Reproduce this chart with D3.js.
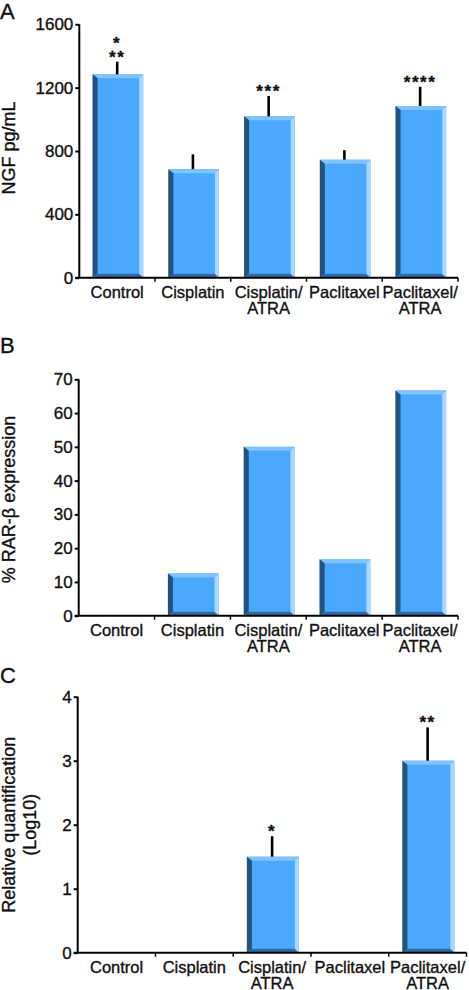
<!DOCTYPE html>
<html><head><meta charset="utf-8">
<script src="https://cdn.jsdelivr.net/npm/d3@7"></script>
<style>
html,body{margin:0;padding:0;background:#fff;}
svg{display:block;font-family:"Liberation Sans",Arial,Helvetica,sans-serif;}
svg text{stroke:#111;stroke-width:0.35px;fill:#111;}
</style></head>
<body>
<svg id="chart" width="469" height="990"></svg>
<script>
// ---------- data ----------
const categories = ["Control", "Cisplatin", "Cisplatin/ATRA", "Paclitaxel", "Paclitaxel/ATRA"];

// Panel A: NGF pg/mL
const ngfMean  = [1284, 685, 1019, 745, 1084];
const ngfUpper = [1364, 779, 1147, 805, 1206];
const ngfStars = [["*", "**"], [], ["***"], [], ["****"]];
const ngfTicks = [0, 400, 800, 1200, 1600];

// Panel B: % RAR-beta expression
const rarPct   = [0, 12.5, 50, 16.7, 66.7];
const rarTicks = [0, 10, 20, 30, 40, 50, 60, 70];

// Panel C: relative quantification (log10)
const rqMean   = [0, 0, 1.5, 0, 3.0];
const rqUpper  = [0, 0, 1.82, 0, 3.52];
const rqStars  = [[], [], ["*"], [], ["**"]];
const rqTicks  = [0, 1, 2, 3, 4];

// ---------- drawing ----------
const svg = d3.select("#chart");

const panels = [
  {letter: "A", letterY: 19, x0: 79.3, x1: 458, yTop: 24.3, yBase: 277.7, max: 1600,
   mean: ngfMean, upper: ngfUpper, stars: ngfStars, ticks: ngfTicks,
   title: ["NGF pg/mL"], titleShift: -3},
  {letter: "B", letterY: 353, x0: 78.7, x1: 458, yTop: 379.3, yBase: 615.7, max: 70,
   mean: rarPct, upper: null, stars: null, ticks: rarTicks,
   title: ["% RAR-\u03b2 expression"], titleShift: 2},
  {letter: "C", letterY: 683, x0: 77.7, x1: 466.5, yTop: 696.7, yBase: 952.7, max: 4,
   mean: rqMean, upper: rqUpper, stars: rqStars, ticks: rqTicks,
   title: ["Relative quantification", "(Log10)"], titleShift: 0}
];

const C_MAIN = "#4aa8ff", C_TOP = "#7ec2ff", C_LEFT = "#24527a", C_RIGHT = "#a9d7ff", C_BOT = "#2f6ca6";

panels.forEach(p => {
  const g = svg.append("g");
  const x = d3.scaleBand().domain(categories).range([p.x0, p.x1]).padding(0);
  const y = d3.scaleLinear().domain([0, p.max]).range([p.yBase, p.yTop]);
  const bw = x.bandwidth();

  // panel letter
  svg.append("text").attr("x", 0).attr("y", p.letterY)
    .attr("font-size", 22).text(p.letter);

  // bars
  categories.forEach((c, i) => {
    const v = p.mean[i];
    if (v <= 0) return;
    const x0 = x(c) + bw * 0.176, x1 = x0 + bw * 0.668;
    const yT = y(v), yB = y(0);
    const bl = 5, br = 4, bt = 4, bb = 4;
    const bar = g.append("g");
    bar.append("rect").attr("x", x0).attr("y", yT).attr("width", x1 - x0).attr("height", yB - yT).attr("fill", C_MAIN);
    const poly = (pts, col) => bar.append("polygon").attr("points", pts.map(d => d.join(",")).join(" ")).attr("fill", col);
    poly([[x0, yT], [x1, yT], [x1 - br, yT + bt], [x0 + bl, yT + bt]], C_TOP);
    poly([[x0, yB], [x1, yB], [x1 - br, yB - bb], [x0 + bl, yB - bb]], C_BOT);
    poly([[x0, yT], [x0 + bl, yT + bt], [x0 + bl, yB - bb], [x0, yB]], C_LEFT);
    poly([[x1, yT], [x1, yB], [x1 - br, yB - bb], [x1 - br, yT + bt]], C_RIGHT);
  });

  // error bars (upper only)
  if (p.upper) {
    categories.forEach((c, i) => {
      if (p.mean[i] <= 0) return;
      const cx = x(c) + bw / 2;
      g.append("line").attr("x1", cx).attr("x2", cx)
        .attr("y1", y(p.mean[i])).attr("y2", y(p.upper[i]))
        .attr("stroke", "#000").attr("stroke-width", 2.6);
    });
  }

  // significance stars
  if (p.stars) {
    categories.forEach((c, i) => {
      const lines = p.stars[i];
      if (!lines.length) return;
      const cx = x(c) + bw / 2;
      const top = y(p.upper[i]);
      lines.slice().reverse().forEach((s, k) => {
        g.append("text").attr("x", cx).attr("y", top + 1 - k * 14)
          .attr("text-anchor", "middle").attr("font-size", 17).attr("font-weight", "bold")
          .attr("letter-spacing", 1.6).text(s);
      });
    });
  }

  // y axis
  const ya = g.append("g").attr("transform", `translate(${p.x0},0)`)
    .call(d3.axisLeft(y).tickValues(p.ticks).tickSize(4).tickPadding(2).tickFormat(d3.format("d")));
  ya.select(".domain").attr("stroke-width", 2).attr("d", `M0,${p.yTop}V${p.yBase}`);
  ya.selectAll(".tick line").attr("stroke-width", 2);
  ya.selectAll(".tick text").attr("font-size", 17).attr("fill", "#111")
    .attr("font-family", "'Liberation Sans',Arial,sans-serif");

  // x axis
  const xa = g.append("g").attr("transform", `translate(0,${p.yBase})`);
  xa.append("line").attr("x1", p.x0 - 4).attr("x2", p.x1).attr("y1", 0).attr("y2", 0)
    .attr("stroke", "#000").attr("stroke-width", 2);
  categories.forEach((c, i) => {
    const bx = x(c) + bw;
    xa.append("line").attr("x1", bx).attr("x2", bx).attr("y1", 0).attr("y2", 4)
      .attr("stroke", "#000").attr("stroke-width", 1.5);
    const parts = c.includes("/") ? [c.slice(0, c.indexOf("/") + 1), c.slice(c.indexOf("/") + 1)] : [c];
    const t = xa.append("text").attr("text-anchor", "middle").attr("font-size", 16.5);
    parts.forEach((s, k) => {
      t.append("tspan").attr("x", x(c) + bw / 2).attr("y", 20 + k * 16.5).text(s);
    });
  });

  // y title
  const midY = (p.yTop + p.yBase) / 2 + p.titleShift;
  p.title.forEach((s, k) => {
    svg.append("text")
      .attr("transform", `translate(${15 + k * 21},${midY}) rotate(-90)`)
      .attr("text-anchor", "middle").attr("font-size", 18).text(s);
  });
});
</script>
</body></html>
